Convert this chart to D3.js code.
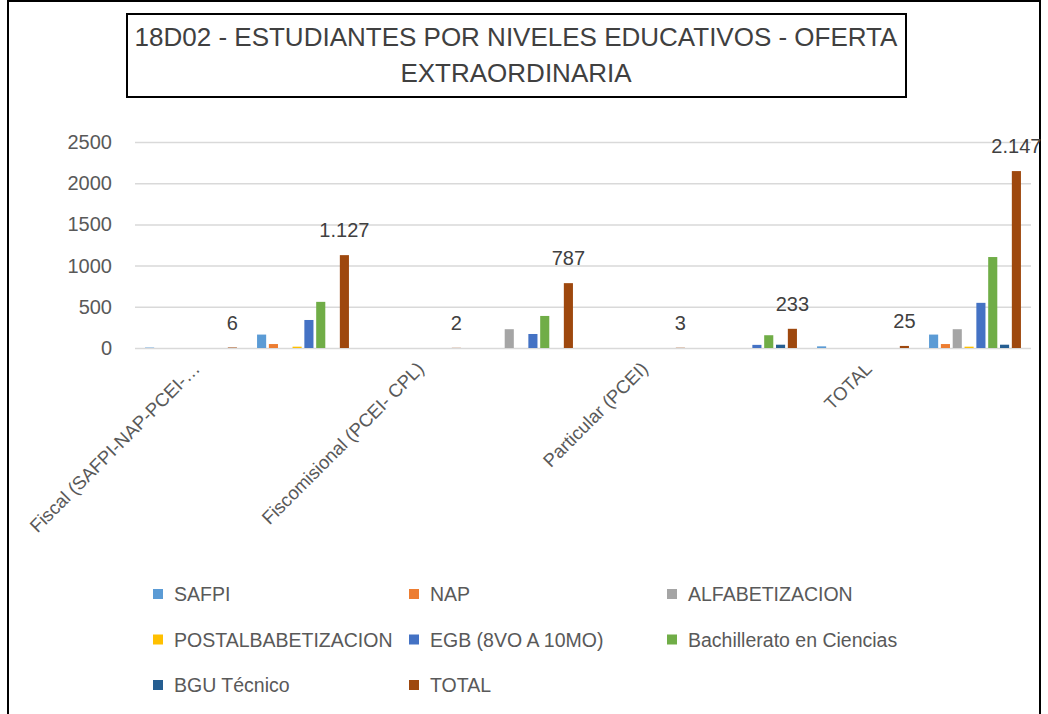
<!DOCTYPE html>
<html>
<head>
<meta charset="utf-8">
<script src="https://cdn.jsdelivr.net/npm/d3@7"></script>
<style>
  body { margin: 0; background: #fff; }
  text { font-family: "Liberation Sans", Arial, sans-serif; }
</style>
</head>
<body>
<div id="main"></div>
<script>
// data: 8 category slots (institutions + students for each type), 8 series
var categories = ["Fiscal (SAFPI-NAP-PCEI-…", "", "Fiscomisional (PCEI- CPL)", "", "Particular (PCEI)", "", "TOTAL", ""];
var series = ["SAFPI", "NAP", "ALFABETIZACION", "POSTALBABETIZACION", "EGB (8VO A 10MO)", "Bachillerato en Ciencias", "BGU Técnico", "TOTAL"];
var colors = ["#5B9BD5", "#ED7D31", "#A5A5A5", "#FFC000", "#4472C4", "#70AD47", "#255E91", "#9E480E"];
var values = [
    [5, 0, 0, 0, 0, 0, 0, 6],
    [163, 48, 0, 16, 340, 560, 0, 1127],
    [0, 0, 0, 0, 0, 0, 0, 2],
    [0, 0, 228, 0, 170, 389, 0, 787],
    [0, 0, 0, 0, 0, 0, 0, 3],
    [0, 0, 0, 0, 38, 155, 40, 233],
    [20, 0, 0, 0, 0, 0, 0, 25],
    [163, 48, 228, 16, 548, 1104, 40, 2147]
];
var yTicks = [0, 500, 1000, 1500, 2000, 2500];

// dimensions
var svg_width = 1048,
    svg_height = 714;
var plot = {left: 135, right: 1031, top: 142, bottom: 348};

var svg = d3.select("#main").append("svg")
    .attr("width", svg_width)
    .attr("height", svg_height);

// outer frame
svg.append("rect")
    .attr("x", 8).attr("y", 1)
    .attr("width", 1032).attr("height", 730)
    .attr("fill", "none")
    .attr("stroke", "#000").attr("stroke-width", 2);

// title box
svg.append("rect")
    .attr("x", 127).attr("y", 14)
    .attr("width", 779).attr("height", 83)
    .attr("fill", "#fff")
    .attr("stroke", "#000").attr("stroke-width", 2);
var title = svg.append("text")
    .attr("text-anchor", "middle")
    .attr("fill", "#404040")
    .style("font-size", "26px");
title.append("tspan").attr("x", 516).attr("y", 46).text("18D02 - ESTUDIANTES POR NIVELES EDUCATIVOS - OFERTA");
title.append("tspan").attr("x", 516).attr("y", 82).text("EXTRAORDINARIA");

/** scales **/
var x0 = d3.scaleBand()
    .domain(d3.range(categories.length))
    .range([plot.left, plot.right]);
var x1 = d3.scaleBand()
    .domain(series)
    .range([0, x0.bandwidth()])
    .paddingInner(0.23)
    .paddingOuter(0.85);
var yScale = d3.scaleLinear()
    .domain([0, 2500])
    .range([plot.bottom, plot.top]);

/** grid + y axis **/
var yAxis = svg.append("g")
    .attr("transform", "translate(" + plot.left + ",0)")
    .call(d3.axisLeft(yScale).tickValues(yTicks).tickFormat(d3.format("d"))
        .tickSize(-(plot.right - plot.left)).tickPadding(23));
yAxis.select(".domain").remove();
yAxis.selectAll(".tick line").attr("stroke", "#d9d9d9").attr("stroke-width", 1.5);
yAxis.selectAll(".tick text")
    .attr("fill", "#595959")
    .style("font-size", "20px");

/** bars **/
var groups = svg.selectAll(".cat")
    .data(values)
    .enter().append("g")
    .attr("class", "cat")
    .attr("transform", function(d, i) { return "translate(" + x0(i) + ",0)"; });

groups.selectAll("rect")
    .data(function(d) { return d.map(function(v, j) { return {key: series[j], value: v, idx: j}; }); })
    .enter().append("rect")
    .attr("x", function(d) { return x1(d.key); })
    .attr("width", x1.bandwidth())
    .attr("y", function(d) { return yScale(d.value); })
    .attr("height", function(d) { return plot.bottom - yScale(d.value); })
    .attr("fill", function(d) { return colors[d.idx]; });

// data labels on TOTAL series
var es = d3.formatLocale({decimal: ",", thousands: ".", grouping: [3], currency: ["$", ""]});
var fmt = es.format(",");
groups.append("text")
    .attr("x", x1("TOTAL") + x1.bandwidth() / 2)
    .attr("y", function(d) { return yScale(d[7]) - 18; })
    .attr("text-anchor", "middle")
    .attr("fill", "#404040")
    .style("font-size", "20px")
    .text(function(d) { return fmt(d[7]); });

/** x labels **/
svg.selectAll(".xlab")
    .data(categories)
    .enter().append("text")
    .attr("class", "xlab")
    .attr("text-anchor", "end")
    .attr("fill", "#595959")
    .style("font-size", "18.5px")
    .attr("transform", function(d, i) {
        return "translate(" + (x0(i) + x0.bandwidth() / 2 + 10) + ",370) rotate(-45)";
    })
    .text(function(d) { return d; });

/** legend **/
var legend = svg.selectAll(".legend")
    .data(series)
    .enter().append("g")
    .attr("class", "legend")
    .attr("transform", function(d, i) {
        return "translate(" + [153, 409, 667][i % 3] + "," + (594 + Math.floor(i / 3) * 45.5) + ")";
    });
legend.append("rect")
    .attr("x", 0).attr("y", -5)
    .attr("width", 10).attr("height", 10)
    .attr("fill", function(d, i) { return colors[i]; });
legend.append("text")
    .attr("x", 21).attr("y", 7)
    .attr("fill", "#595959")
    .style("font-size", "19.5px")
    .text(function(d) { return d; });
</script>
</body>
</html>
